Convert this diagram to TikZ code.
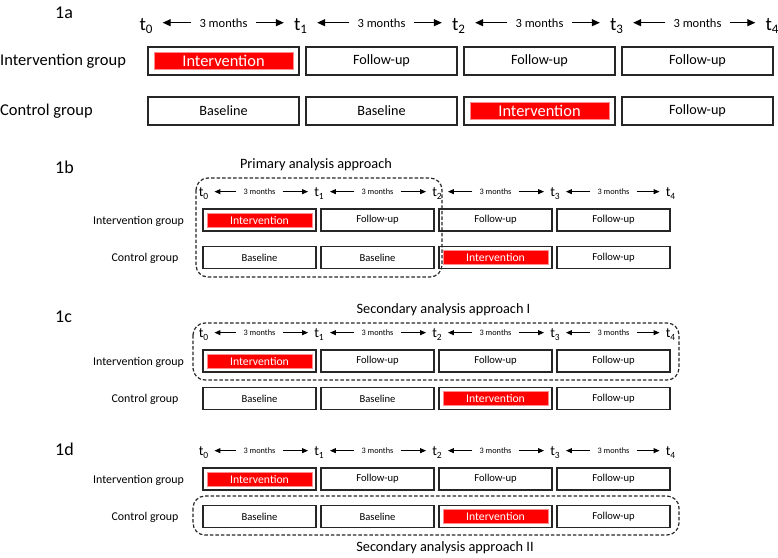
\documentclass[tikz,border=0pt]{standalone}
\usepackage{fontspec}
\setmainfont{Carlito}
\usetikzlibrary{arrows.meta}

\newcommand{\tbig}[1]{t\raisebox{-3pt}{\fontsize{13}{13}\selectfont #1}}
\newcommand{\tsmall}[1]{t\raisebox{-2.5pt}{\fontsize{9.5}{10}\selectfont #1}}

\tikzset{
  bigbox/.style={draw=black!85, fill=white, line width=1.4pt, minimum width=151pt, minimum height=28pt, inner sep=0pt, font=\fontsize{14.2}{16}\selectfont},
  smallbox/.style={bigbox, line width=1.1pt, minimum width=113pt, minimum height=22pt, font=\fontsize{10.6}{12}\selectfont},
  bigred/.style={fill=red, draw=red!45, line width=0.5pt, text=white, minimum width=139pt, minimum height=17pt, inner sep=0pt, font=\fontsize{16.4}{18}\selectfont},
  smallred/.style={bigred, minimum width=105pt, minimum height=14pt, font=\fontsize{11.7}{13}\selectfont},
  bigtime/.style={inner xsep=10pt, inner ysep=0pt, anchor=base, font=\fontsize{19}{20}\selectfont},
  smalltime/.style={inner xsep=6pt, inner ysep=0pt, anchor=base, font=\fontsize{14}{15}\selectfont},
  bigmonth/.style={inner xsep=8pt, inner ysep=0pt, anchor=base, font=\fontsize{12.5}{14}\selectfont},
  smallmonth/.style={inner xsep=7pt, inner ysep=0pt, anchor=base, font=\fontsize{8.3}{10}\selectfont},
  bigarrow/.style={-{Triangle[length=8pt,width=7pt]}, line width=1.2pt},
  smallarrow/.style={-{Triangle[length=6pt,width=5pt]}, line width=1pt},
  biggroup/.style={font=\fontsize{16.5}{18}\selectfont, inner sep=0pt, anchor=west},
  smallgroup/.style={font=\fontsize{11.9}{13}\selectfont, inner sep=0pt},
  panel/.style={font=\fontsize{18}{20}\selectfont, inner sep=0pt, anchor=base west},
  approach/.style={font=\fontsize{14.3}{16}\selectfont, inner sep=0pt},
  dashbox/.style={draw=black!85, line width=1.2pt, dash pattern=on 3.5pt off 2pt, rounded corners=12pt},
}

\begin{document}
\begin{tikzpicture}[x=1pt, y=-1pt]
    \useasboundingbox (0,0) rectangle (778,557);

    % 1a
    \node[panel] (pa) at (55,18) {1a};
    \foreach \i/\x in {0/146,1/300.5,2/458.5,3/616.5,4/772}
        \node[bigtime] (a-t\i) at (\x,30) {\tbig{\i}};
    \foreach \i/\x in {1/223.5,2/381.5,3/539.5,4/697.5}
        \node[bigmonth] (a-m\i) at (\x,27) {3 months};
    \foreach \i [remember=\i as \j (initially 0)] in {1,...,4} {
        \draw[bigarrow] (a-m\i.west) -- (a-m\i.west -| a-t\j.east);
        \draw[bigarrow] (a-m\i.east) -- (a-m\i.east -| a-t\i.west);
    }
    \node[biggroup] (a-gi) at (0,61.5) {Intervention group};
    \node[biggroup] (a-gc) at (0,111.5) {Control group};
    \node[bigbox] (a-i1) at (223.5,61) {};
    \node[bigred] (a-ir) at (a-i1) {Intervention};
    \foreach \i/\x in {2/381.5,3/539.5,4/697.5}
        \node[bigbox] (a-i\i) at (\x,61) {Follow-up};
    \foreach \i/\x in {1/223.5,2/381.5}
        \node[bigbox] (a-c\i) at (\x,111) {Baseline};
    \node[bigbox] (a-c3) at (539.5,111) {};
    \node[bigred] (a-cr) at (a-c3) {Intervention};
    \node[bigbox] (a-c4) at (697.5,111) {Follow-up};

    % 1b, 1c, 1d
    \node[panel] (pb) at (55,173) {1b};
    \node[panel] (pc) at (55,322) {1c};
    \node[panel] (pd) at (55,455) {1d};
    \foreach \p/\y in {b/192,c/333,d/451} {
        \foreach \i/\x in {0/203.5,1/319,2/437,3/555,4/670.5}
            \node[smalltime] (\p-t\i) at (\x,\y+4.5) {\tsmall{\i}};
        \foreach \i/\x in {1/259.5,2/377.5,3/495.5,4/613.5}
            \node[smallmonth] (\p-m\i) at (\x,\y+2.5) {3 months};
        \foreach \i [remember=\i as \j (initially 0)] in {1,...,4} {
            \draw[smallarrow] (\p-m\i.west) -- (\p-m\i.west -| \p-t\j.east);
            \draw[smallarrow] (\p-m\i.east) -- (\p-m\i.east -| \p-t\i.west);
        }
        \node[smallgroup] (\p-gi) at (138.5,\y+29.5) {Intervention group};
        \node[smallgroup] (\p-gc) at (145,\y+66.5) {Control group};
        \node[smallbox] (\p-i1) at (259.5,\y+28) {};
        \node[smallred] (\p-ir) at (\p-i1) {Intervention};
        \foreach \i/\x in {2/377.5,3/495.5,4/613.5}
            \node[smallbox] (\p-i\i) at (\x,\y+28) {Follow-up};
        \foreach \i/\x in {1/259.5,2/377.5}
            \node[smallbox] (\p-c\i) at (\x,\y+65.5) {Baseline};
        \node[smallbox] (\p-c3) at (495.5,\y+65.5) {};
        \node[smallred] (\p-cr) at (\p-c3) {Intervention};
        \node[smallbox] (\p-c4) at (613.5,\y+65.5) {Follow-up};
    }

    \node[approach] (prim) at (316,165) {Primary analysis approach};
    \node[approach] (sec1) at (443.5,309.5) {Secondary analysis approach I};
    \node[approach] (sec2) at (445,548) {Secondary analysis approach II};
    \draw[dashbox] (196,178) rectangle (442,277);
    \draw[dashbox] (193,323) rectangle (679,380);
    \draw[dashbox] (193,496) rectangle (679,535);
\end{tikzpicture}
\end{document}
